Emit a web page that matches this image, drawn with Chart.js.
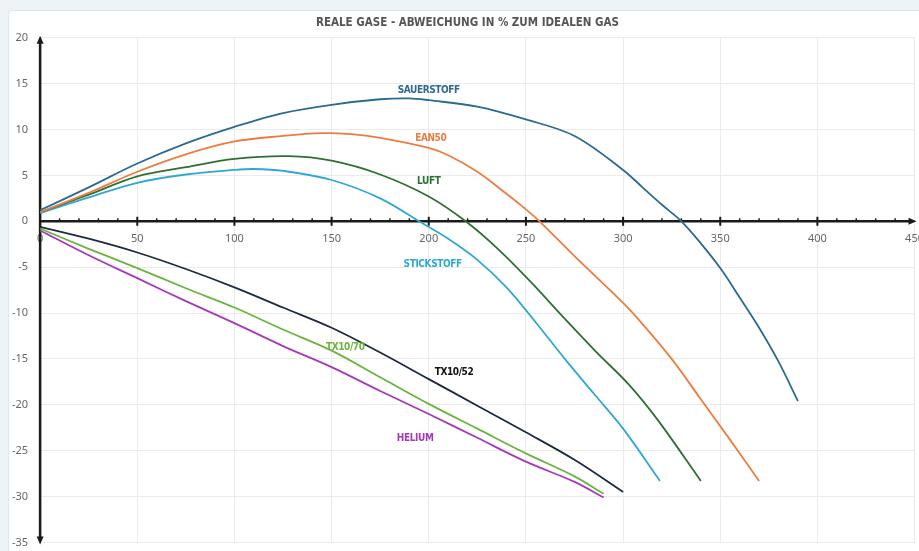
<!DOCTYPE html>
<html>
<head>
<meta charset="utf-8">
<script src="https://cdn.jsdelivr.net/npm/chart.js@4.4.1/dist/chart.umd.min.js"></script>
<style>
  html, body { margin: 0; padding: 0; overflow: hidden; background: #eef3f8; width: 919px; height: 551px; }
  .card { position: absolute; left: 8px; top: 10px; width: 940px; height: 560px; background: #fff; border: 1px solid #e2e7ee; border-radius: 4px; }
  .wrap { position: absolute; left: 0; top: 0; width: 935px; height: 561px; }
</style>
</head>
<body>
<div class="card"></div>
<div class="wrap"><canvas id="gasChart"></canvas></div>
<script>
// Abweichung realer Gase vom idealen Gas (in %), x = Druck in bar
const sauerstoffX = [0, 25, 50, 75, 100, 125, 150, 175, 190, 200, 225, 250, 275, 300, 310, 320, 330, 340, 350, 360, 370, 380, 390];
const sauerstoffY = [1.2, 3.7, 6.3, 8.5, 10.3, 11.8, 12.7, 13.3, 13.4, 13.2, 12.5, 11.1, 9.3, 5.6, 3.7, 1.8, 0, -2.4, -5.1, -8.3, -11.6, -15.3, -19.6];

const ean50X = [0, 25, 50, 75, 100, 125, 145, 160, 175, 200, 210, 225, 240, 250, 257, 275, 300, 310, 325, 340, 355, 370];
const ean50Y = [1.0, 3.1, 5.4, 7.3, 8.7, 9.3, 9.6, 9.5, 9.1, 8.0, 7.2, 5.4, 3.0, 1.3, 0, -3.8, -8.9, -11.2, -15.0, -19.4, -23.8, -28.3];

const luftX = [0, 25, 50, 75, 100, 128, 150, 175, 200, 219, 235, 252, 269, 286, 303, 318, 340];
const luftY = [1.0, 2.9, 4.9, 5.9, 6.8, 7.1, 6.6, 5.1, 2.7, 0, -2.9, -6.5, -10.4, -14.2, -17.8, -21.7, -28.3];

const stickstoffX = [0, 25, 50, 75, 100, 110, 125, 150, 175, 195, 210, 225, 240, 255, 270, 285, 300, 319];
const stickstoffY = [0.9, 2.6, 4.2, 5.1, 5.6, 5.7, 5.5, 4.5, 2.5, 0, -1.9, -4.2, -7.2, -11.0, -15.0, -18.8, -22.6, -28.3];

const tx1052X = [0, 25, 50, 75, 100, 125, 150, 175, 200, 225, 250, 275, 300];
const tx1052Y = [-0.6, -1.9, -3.4, -5.2, -7.2, -9.4, -11.6, -14.3, -17.2, -20.1, -23.0, -26.0, -29.5];

const tx1070X = [0, 25, 50, 75, 100, 125, 150, 175, 200, 225, 250, 275, 290];
const tx1070Y = [-0.8, -3.0, -5.1, -7.3, -9.4, -11.8, -14.1, -17.0, -19.9, -22.6, -25.3, -27.8, -29.7];

const heliumX = [0, 25, 50, 75, 100, 125, 150, 175, 200, 225, 250, 275, 290];
const heliumY = [-1.0, -3.7, -6.2, -8.7, -11.1, -13.6, -15.9, -18.5, -21.0, -23.6, -26.2, -28.4, -30.1];

const xTicks = [0, 50, 100, 150, 200, 250, 300, 350, 400, 450];
const yTicks = [20, 15, 10, 5, 0, -5, -10, -15, -20, -25, -30, -35];

// name, label position (x, y), colours
const seriesNames = ['SAUERSTOFF', 'EAN50', 'LUFT', 'STICKSTOFF', 'TX10/52', 'TX10/70', 'HELIUM'];
const labelX = [200, 201, 200, 202, 213, 157, 193];
const labelY = [14.3, 9.0, 4.3, -4.7, -16.5, -13.8, -23.7];
const lineColors = ['#2c6a8f', '#ec7d3f', '#2f6f34', '#2fa8d5', '#1d2b3f', '#6cb33f', '#a43bb5'];
const labelColors = ['#2c6a8f', '#ec7d3f', '#2f6f34', '#2fa8d5', '#111111', '#6cb33f', '#a43bb5'];

const seriesX = [sauerstoffX, ean50X, luftX, stickstoffX, tx1052X, tx1070X, heliumX];
const seriesY = [sauerstoffY, ean50Y, luftY, stickstoffY, tx1052Y, tx1070Y, heliumY];

const toPoints = (xs, ys) => xs.map((x, i) => ({ x: x, y: ys[i] }));

const datasets = seriesNames.map((name, i) => ({
    label: name,
    data: toPoints(seriesX[i], seriesY[i]),
    borderColor: lineColors[i],
    backgroundColor: lineColors[i],
    borderWidth: 1.8,
    pointRadius: 0,
    tension: 0.35,
    fill: false
}));

// black axes through the origin, with arrows and tick marks
const axesPlugin = {
    id: 'axesPlugin',
    beforeDatasetsDraw(chart) {
        const { ctx, chartArea, scales } = chart;
        const x0 = scales.x.getPixelForValue(0);
        const y0 = scales.y.getPixelForValue(0);
        ctx.save();
        ctx.strokeStyle = '#1a1a1a';
        ctx.fillStyle = '#1a1a1a';
        ctx.lineWidth = 2.5;
        ctx.beginPath();
        ctx.moveTo(x0, chartArea.top + 4);
        ctx.lineTo(x0, chartArea.bottom - 4);
        ctx.moveTo(x0, y0);
        ctx.lineTo(chartArea.right - 4, y0);
        ctx.stroke();
        // arrows
        ctx.beginPath();
        ctx.moveTo(x0, chartArea.top - 2);
        ctx.lineTo(x0 - 3.5, chartArea.top + 6);
        ctx.lineTo(x0 + 3.5, chartArea.top + 6);
        ctx.closePath();
        ctx.moveTo(x0, chartArea.bottom + 2);
        ctx.lineTo(x0 - 3.5, chartArea.bottom - 6);
        ctx.lineTo(x0 + 3.5, chartArea.bottom - 6);
        ctx.closePath();
        ctx.moveTo(chartArea.right + 2, y0);
        ctx.lineTo(chartArea.right - 6, y0 - 3.5);
        ctx.lineTo(chartArea.right - 6, y0 + 3.5);
        ctx.closePath();
        ctx.fill();
        // tick marks
        for (let v = 10; v < 450; v += 10) {
            const px = scales.x.getPixelForValue(v);
            ctx.beginPath();
            if (v % 50 === 0) {
                ctx.lineWidth = 2;
                ctx.moveTo(px, y0 - 4.5);
                ctx.lineTo(px, y0 + 4.5);
            } else {
                ctx.lineWidth = 1.5;
                ctx.moveTo(px, y0 - 3);
                ctx.lineTo(px, y0);
            }
            ctx.stroke();
        }
        ctx.restore();
    }
};

// coloured names next to the curves
const seriesLabelPlugin = {
    id: 'seriesLabelPlugin',
    afterDatasetsDraw(chart) {
        const { ctx, scales } = chart;
        ctx.save();
        ctx.font = "bold 10px 'DejaVu Sans Condensed', 'DejaVu Sans', sans-serif";
        ctx.letterSpacing = '-0.4px';
        ctx.textAlign = 'center';
        ctx.textBaseline = 'middle';
        seriesNames.forEach((name, i) => {
            ctx.fillStyle = labelColors[i];
            ctx.fillText(name, scales.x.getPixelForValue(labelX[i]), scales.y.getPixelForValue(labelY[i]));
        });
        ctx.restore();
    }
};

new Chart(document.getElementById('gasChart'), {
    type: 'line',
    data: { datasets: datasets },
    plugins: [axesPlugin, seriesLabelPlugin],
    options: {
        responsive: true,
        maintainAspectRatio: false,
        animation: false,
        layout: { padding: { left: 0, right: 0, top: 0, bottom: 0 } },
        scales: {
            x: {
                type: 'linear',
                position: { y: 0 },
                min: 0, max: 450,
                afterBuildTicks: axis => { axis.ticks = xTicks.map(v => ({ value: v })); },
                ticks: { color: '#666', font: { family: "'Noto Sans', sans-serif", size: 11 }, padding: 11, maxRotation: 0, autoSkip: false },
                grid: { color: '#ebebeb', drawTicks: false },
                border: { display: false }
            },
            y: {
                type: 'linear',
                min: -35, max: 20,
                afterBuildTicks: axis => { axis.ticks = yTicks.map(v => ({ value: v })); },
                ticks: { color: '#666', font: { family: "'Noto Sans', sans-serif", size: 11 }, padding: 12 },
                grid: { color: '#ebebeb', drawTicks: false },
                border: { display: false }
            }
        },
        plugins: {
            legend: { display: false },
            tooltip: { enabled: false },
            title: {
                display: true,
                text: 'REALE GASE - ABWEICHUNG IN % ZUM IDEALEN GAS',
                color: '#555',
                font: { family: "'DejaVu Sans Condensed', 'DejaVu Sans', sans-serif", size: 11.5, weight: 'bold' },
                padding: { top: 16, bottom: 8 }
            }
        }
    }
});
</script>
</body>
</html>
